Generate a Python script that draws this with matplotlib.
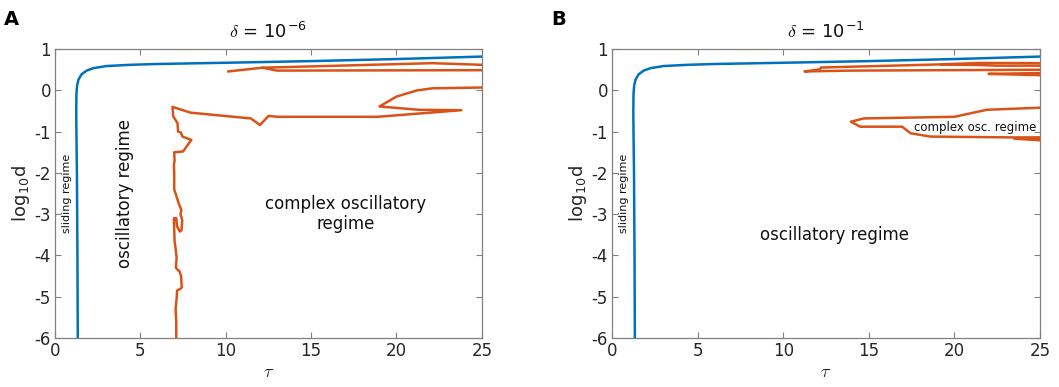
import matplotlib
matplotlib.use("Agg")
import matplotlib.pyplot as plt

plt.rcParams['font.family'] = ['DejaVu Sans']
plt.rcParams['mathtext.fontset'] = 'cm'
plt.rcParams['axes.unicode_minus'] = False

BLUE = '#0072BD'
ORANGE = '#D95319'

# ---- data ----
# sliding / oscillatory boundary (same shape in both panels)
blue_tau = [1.33, 1.31, 1.28, 1.25, 1.24, 1.25, 1.29, 1.37, 1.55, 1.85, 2.25, 3.0, 4.4, 6.0, 10.0, 15.0, 20.0, 25.0]
blue_d   = [-6.0, -4.0, -2.0, -1.0, -0.5, -0.1, 0.12, 0.26, 0.39, 0.48, 0.54, 0.59, 0.62, 0.64, 0.67, 0.71, 0.76, 0.82]

# panel A: complex-oscillation boundaries
a_up1_tau = [10.15, 12.15, 22.1, 25.0]
a_up1_d   = [0.46, 0.55, 0.66, 0.62]
a_up2_tau = [12.15, 13.0, 25.0]
a_up2_d   = [0.55, 0.48, 0.49]
a_main_tau = [7.10, 7.10, 7.06, 7.12, 7.15, 7.30, 7.42, 7.38, 7.28, 7.18, 7.08, 7.12, 7.05, 7.00,
              6.98, 6.96, 7.10, 7.15, 7.30, 7.40, 7.45, 7.35, 7.40, 7.25, 7.10, 6.98, 6.98, 6.96,
              7.00, 6.98, 7.50, 7.98, 7.46, 7.37, 7.21, 7.17, 6.92, 6.88, 7.94, 11.47, 12.0,
              12.5, 13.04, 18.9, 23.8, 21.3, 19.0, 20.0, 21.2, 22.1, 25.0]
a_main_d   = [-6.0, -5.6, -5.3, -5.05, -4.85, -4.82, -4.78, -4.5, -4.38, -4.35, -4.3, -4.05, -3.8, -3.65,
              -3.4, -3.1, -3.1, -3.3, -3.42, -3.4, -3.15, -3.0, -2.9, -2.75, -2.55, -2.4, -2.0, -1.8,
              -1.72, -1.5, -1.48, -1.2, -1.12, -1.02, -1.0, -0.79, -0.63, -0.40, -0.54, -0.68, -0.84,
              -0.62, -0.64, -0.64, -0.48, -0.47, -0.39, -0.15, 0.0, 0.05, 0.07]

# panel B: complex-oscillation boundaries
b_up1_tau = [25.0, 21.5, 19.2, 12.2, 12.15, 11.25, 14.0, 25.0]
b_up1_d   = [0.66, 0.665, 0.63, 0.555, 0.51, 0.46, 0.48, 0.50]
b_up2_tau = [19.2, 21.5, 22.5, 25.0]
b_up2_d   = [0.625, 0.615, 0.60, 0.60]
b_up3_tau = [25.0, 22.0, 25.0]
b_up3_d   = [0.42, 0.40, 0.37]
b_low_tau = [25.0, 21.9, 20.0, 14.7, 13.95, 14.5, 16.95, 17.44, 18.6, 23.4, 25.0]
b_low_d   = [-0.42, -0.47, -0.64, -0.68, -0.76, -0.88, -0.88, -1.04, -1.12, -1.14, -1.14]
b_low2_tau = [25.0, 23.5, 25.0]
b_low2_d   = [-1.15, -1.17, -1.21]

x_ticks = [0, 5, 10, 15, 20, 25]
y_ticks = [-6, -5, -4, -3, -2, -1, 0, 1]

fig = plt.figure(figsize=(10.59, 3.87), dpi=100)
axA = fig.add_axes([0.052, 0.127, 0.403, 0.746])
axB = fig.add_axes([0.578, 0.127, 0.404, 0.746])

def style(ax, title):
    ax.set_xlim(0, 25)
    ax.set_ylim(-6, 1)
    ax.set_xticks(x_ticks)
    ax.set_yticks(y_ticks)
    ax.set_xticklabels([str(t) for t in x_ticks])
    ax.set_yticklabels([str(t) for t in y_ticks])
    ax.tick_params(direction='in', length=4, width=0.8, top=True, right=True,
                   labelsize=12, colors='#808080', labelcolor='#262626', pad=3)
    for s in ax.spines.values():
        s.set_color('#808080')
        s.set_linewidth(0.9)
    ax.set_title(title, fontsize=13, color='#111111', pad=8)
    ax.set_xlabel(r'$\tau$', fontsize=13, color='#262626', labelpad=2)
    ax.set_ylabel(r'log$_{\mathregular{10}}$d', fontsize=13, color='#262626', labelpad=2)

lw = 1.8
axA.plot(blue_tau, blue_d, color=BLUE, lw=lw)
axA.plot(a_up1_tau, a_up1_d, color=ORANGE, lw=lw)
axA.plot(a_up2_tau, a_up2_d, color=ORANGE, lw=lw)
axA.plot(a_main_tau, a_main_d, color=ORANGE, lw=lw)
style(axA, r'$\delta$ = 10$^{\mathregular{-6}}$')
axA.text(0.7, -2.5, 'sliding regime', rotation=90, ha='center', va='center', fontsize=8, color='#111111')
axA.text(4.1, -2.5, 'oscillatory regime', rotation=90, ha='center', va='center', fontsize=12, color='#111111')
axA.text(17.0, -3.0, 'complex oscillatory\nregime', ha='center', va='center', fontsize=12,
         color='#111111', linespacing=1.1)

axB.plot(blue_tau, blue_d, color=BLUE, lw=lw)
for t, d in [(b_up1_tau, b_up1_d), (b_up2_tau, b_up2_d), (b_up3_tau, b_up3_d),
             (b_low_tau, b_low_d), (b_low2_tau, b_low2_d)]:
    axB.plot(t, d, color=ORANGE, lw=lw)
style(axB, r'$\delta$ = 10$^{\mathregular{-1}}$')
axB.text(0.7, -2.5, 'sliding regime', rotation=90, ha='center', va='center', fontsize=8, color='#111111')
axB.text(13.0, -3.5, 'oscillatory regime', ha='center', va='center', fontsize=12, color='#111111')
axB.text(21.2, -0.9, 'complex osc. regime', ha='center', va='center', fontsize=8.5, color='#111111')

fig.text(0.004, 0.975, 'A', fontsize=14, fontweight='bold', va='top', ha='left')
fig.text(0.521, 0.975, 'B', fontsize=14, fontweight='bold', va='top', ha='left')

fig.savefig('out.png', dpi=100)
